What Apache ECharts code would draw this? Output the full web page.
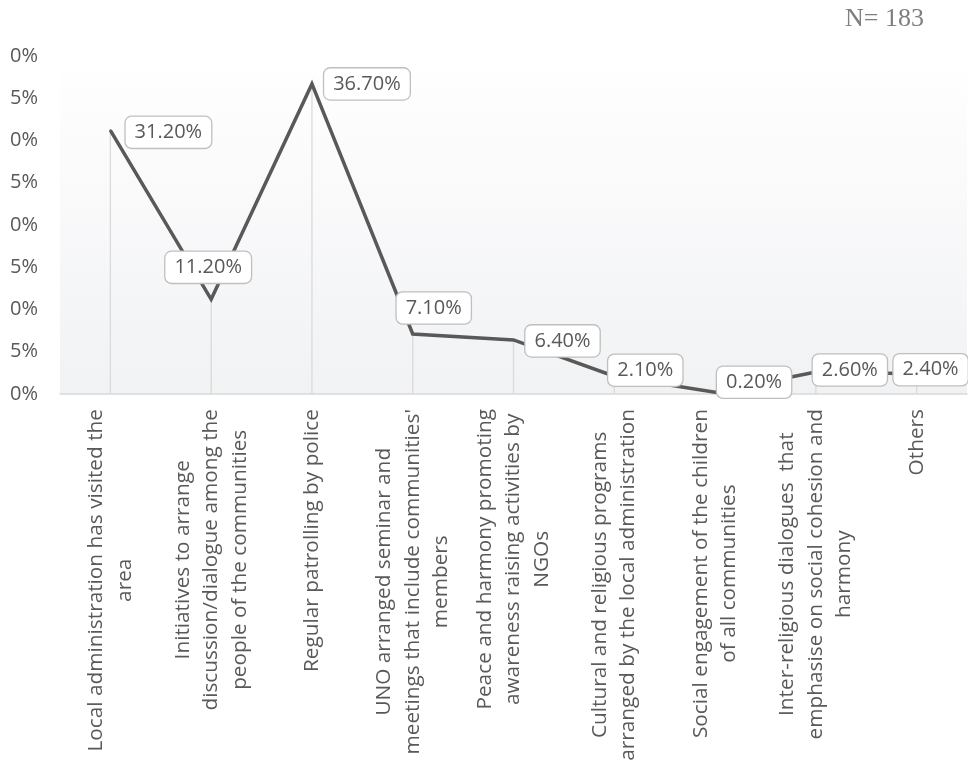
<!DOCTYPE html>
<html>
<head>
<meta charset="utf-8">
<script src="https://cdn.jsdelivr.net/npm/echarts@6/dist/echarts.min.js"></script>
<style>
  html, body { margin: 0; padding: 0; background: #ffffff; }
  #chart { width: 968px; height: 764px; }
</style>
</head>
<body>
<div id="chart"></div>
<script>
// Survey responses (N = 183): share of respondents naming each measure
const categories = [
  'Local administration has visited the\narea',
  'Initiatives to arrange\ndiscussion/dialogue among the\npeople of the communities',
  'Regular patrolling by police',
  "UNO arranged seminar and\nmeetings that include communities'\nmembers",
  'Peace and harmony promoting\nawareness raising activities by\nNGOs',
  'Cultural and religious programs\narranged by the local administration',
  'Social engagement of the children\nof all communities',
  'Inter-religious dialogues  that\nemphasise on social cohesion and\nharmony',
  'Others'
];
const shares = [31.2, 11.2, 36.7, 7.1, 6.4, 2.1, 0.2, 2.6, 2.4];
const yTicks = { min: 0, max: 40, step: 5 };
const sampleNote = 'N= 183';

// Where each value box sits relative to its point (label styling only)
const labelOffsets = [
  [58, 2], [-3, -32], [55, 0], [21, -26], [49, 1],
  [31, -6], [39, -10], [34, -2], [14, -4]
];

const textColor = '#595959';
const uiFont = '"Open Sans", sans-serif';

const chart = echarts.init(document.getElementById('chart'), null, { renderer: 'canvas' });

const lineData = shares.map((v, i) => ({
  value: v,
  label: { offset: labelOffsets[i] }
}));

// The page edge cuts through the y labels: the tens digit sits just past the
// left border, so only the units digit and the percent sign remain in view.
function yLabel(v) {
  const tens = Math.floor(v / 10);
  const units = (v % 10) + '%';
  return tens > 0 ? '{h|' + tens + '}{u|' + units + '}' : '{u|' + units + '}';
}

chart.setOption({
  animation: false,
  backgroundColor: '#ffffff',
  title: {
    text: sampleNote,
    right: 44,
    top: 6,
    padding: 0,
    textStyle: {
      fontFamily: '"Liberation Serif", serif',
      fontSize: 26,
      fontWeight: 'normal',
      color: '#7f7f7f'
    }
  },
  grid: {
    left: 60,
    right: 1,
    top: 56,
    bottom: 370,
    containLabel: false,
    outerBoundsMode: 'none',
    show: true,
    borderWidth: 0,
    backgroundColor: new echarts.graphic.LinearGradient(0, 0, 0, 1, [
      { offset: 0, color: '#ffffff' },
      { offset: 0.3, color: '#fbfbfc' },
      { offset: 1, color: '#f1f2f4' }
    ])
  },
  xAxis: {
    type: 'category',
    data: categories,
    boundaryGap: true,
    axisLine: { show: true, lineStyle: { color: '#d9d9d9', width: 1.5 } },
    axisTick: { show: false },
    splitLine: { show: false },
    axisLabel: {
      interval: 0,
      rotate: 90,
      margin: 15,
      formatter: (v) => v.split('\n').map(l => '{c|' + l + '}').join('\n'),
      rich: {
        c: {
          align: 'center',
          fontFamily: uiFont,
          fontSize: 20.8,
          lineHeight: 28.5,
          color: textColor
        }
      }
    }
  },
  yAxis: {
    type: 'value',
    min: yTicks.min,
    max: yTicks.max,
    interval: yTicks.step,
    axisLine: { show: false },
    axisTick: { show: false },
    splitLine: { show: false },
    axisLabel: {
      margin: 22,
      formatter: yLabel,
      rich: {
        h: {
          fontFamily: uiFont,
          fontSize: 20,
          color: textColor,
          padding: [0, 14, 0, 0]
        },
        u: {
          fontFamily: uiFont,
          fontSize: 20,
          color: textColor
        }
      }
    }
  },
  series: [
    {
      // thin drop lines from each point to the axis
      type: 'bar',
      data: shares,
      barWidth: 1.3,
      itemStyle: { color: '#dadada' },
      silent: true,
      z: 1
    },
    {
      type: 'line',
      data: lineData,
      symbol: 'circle',
      symbolSize: 2,
      itemStyle: { color: '#595959' },
      lineStyle: { color: '#595959', width: 3.5, join: 'miter' },
      z: 3,
      label: {
        show: true,
        position: 'inside',
        align: 'center',
        verticalAlign: 'middle',
        formatter: (p) => p.value.toFixed(2) + '%',
        fontFamily: uiFont,
        fontSize: 20,
        color: textColor,
        backgroundColor: '#ffffff',
        borderColor: '#bfbfbf',
        borderWidth: 1.3,
        borderRadius: 6,
        padding: [4, 9, 3, 9],
        lineHeight: 24
      }
    }
  ]
});
</script>
</body>
</html>
